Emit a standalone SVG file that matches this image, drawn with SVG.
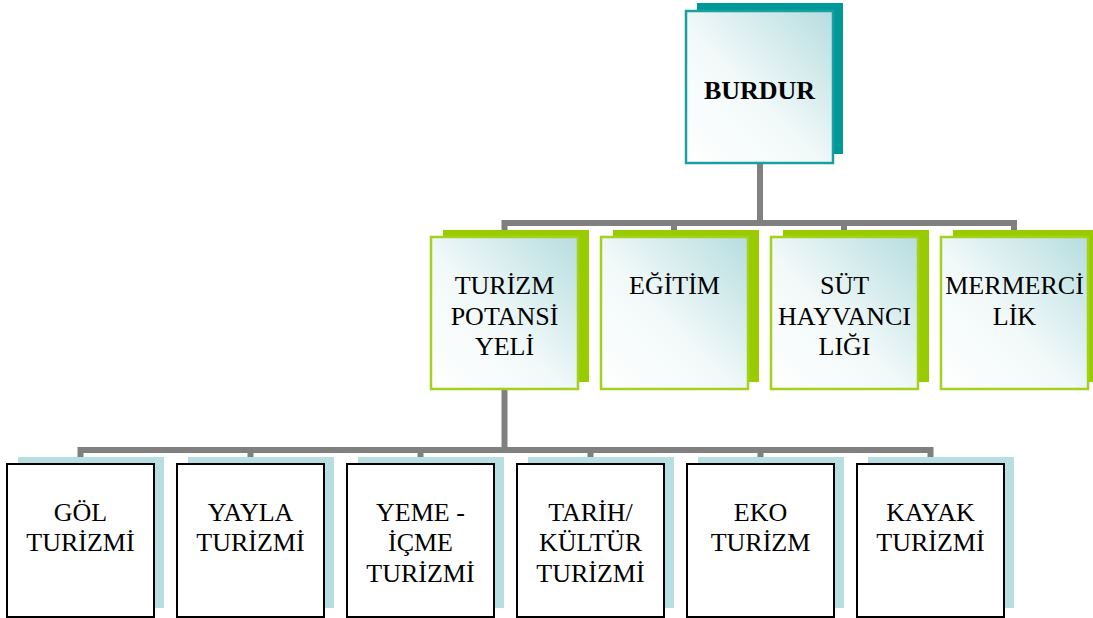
<svg xmlns="http://www.w3.org/2000/svg" width="1093" height="618" viewBox="0 0 1093 618">
  <defs>
    <linearGradient id="glow" x1="0" y1="1" x2="1" y2="0">
      <stop offset="0" stop-color="#ffffff"/>
      <stop offset="0.45" stop-color="#f2f9f9"/>
      <stop offset="1" stop-color="#b6dde0"/>
    </linearGradient>
    <style>
      .link { fill: none; stroke: #808080; stroke-width: 6; stroke-linejoin: miter; }
      .label { font-family: "Liberation Serif", "Times New Roman", serif; font-size: 26px; font-weight: normal; fill: #000; text-anchor: middle; }
      .bold { font-weight: bold; }
      .rootShadow { fill: #009999; }
      .rootFace { fill: url(#glow); stroke: #1aa0a0; stroke-width: 2.5; }
      .midShadow { fill: #99cc00; }
      .midFace { fill: url(#glow); stroke: #a3d11e; stroke-width: 2.5; }
      .leafShadow { fill: #b7dee1; }
      .leafFace { fill: #ffffff; stroke: #000000; stroke-width: 2; }
    </style>
  </defs>
  <rect width="1093" height="618" fill="#ffffff"/>

  <!-- elbow connectors -->
  <g id="connectors">
    <path class="link" d="M760,163 V223 H504.5 V237"/>
    <path class="link" d="M760,223 H674 V237"/>
    <path class="link" d="M760,223 H844 V237"/>
    <path class="link" d="M760,223 H1014 V237"/>
    <path class="link" d="M504.5,389 V450 H80.5 V464"/>
    <path class="link" d="M504.5,450 H250.5 V464"/>
    <path class="link" d="M504.5,450 H420.5 V464"/>
    <path class="link" d="M504.5,450 H590.5 V464"/>
    <path class="link" d="M504.5,450 H760.5 V464"/>
    <path class="link" d="M504.5,450 H930.5 V464"/>
  </g>

  <!-- root -->
  <g id="burdur">
    <rect class="rootShadow" x="697" y="3" width="146" height="151"/>
    <rect class="rootFace" x="686" y="11" width="147" height="152"/>
    <text class="label bold" x="759.5" y="99">BURDUR</text>
  </g>

  <!-- second level -->
  <g id="turizm-potansiyeli">
    <rect class="midShadow" x="443" y="230" width="146" height="152"/>
    <rect class="midFace" x="431" y="237" width="147" height="152"/>
    <text class="label" x="504.5" y="294">TURİZM</text>
    <text class="label" x="504.5" y="324.5">POTANSİ</text>
    <text class="label" x="504.5" y="355">YELİ</text>
  </g>
  <g id="egitim">
    <rect class="midShadow" x="613" y="230" width="146" height="152"/>
    <rect class="midFace" x="601" y="237" width="147" height="152"/>
    <text class="label" x="674.5" y="294">EĞİTİM</text>
  </g>
  <g id="sut-hayvanciligi">
    <rect class="midShadow" x="783" y="230" width="146" height="152"/>
    <rect class="midFace" x="771" y="237" width="147" height="152"/>
    <text class="label" x="844.5" y="294">SÜT</text>
    <text class="label" x="844.5" y="324.5">HAYVANCI</text>
    <text class="label" x="844.5" y="355">LIĞI</text>
  </g>
  <g id="mermercilik">
    <rect class="midShadow" x="953" y="230" width="146" height="152"/>
    <rect class="midFace" x="941" y="237" width="147" height="152"/>
    <text class="label" x="1014.5" y="294">MERMERCİ</text>
    <text class="label" x="1014.5" y="324.5">LİK</text>
  </g>

  <!-- third level -->
  <g id="gol-turizmi">
    <rect class="leafShadow" x="18" y="457" width="146" height="151"/>
    <rect class="leafFace" x="7" y="464" width="147" height="153"/>
    <text class="label" x="80.5" y="521">GÖL</text>
    <text class="label" x="80.5" y="551">TURİZMİ</text>
  </g>
  <g id="yayla-turizmi">
    <rect class="leafShadow" x="188" y="457" width="146" height="151"/>
    <rect class="leafFace" x="177" y="464" width="147" height="153"/>
    <text class="label" x="250.5" y="521">YAYLA</text>
    <text class="label" x="250.5" y="551">TURİZMİ</text>
  </g>
  <g id="yeme-icme-turizmi">
    <rect class="leafShadow" x="358" y="457" width="146" height="151"/>
    <rect class="leafFace" x="347" y="464" width="147" height="153"/>
    <text class="label" x="420.5" y="521">YEME -</text>
    <text class="label" x="420.5" y="551">İÇME</text>
    <text class="label" x="420.5" y="582">TURİZMİ</text>
  </g>
  <g id="tarih-kultur-turizmi">
    <rect class="leafShadow" x="528" y="457" width="146" height="151"/>
    <rect class="leafFace" x="517" y="464" width="147" height="153"/>
    <text class="label" x="590.5" y="521">TARİH/</text>
    <text class="label" x="590.5" y="551">KÜLTÜR</text>
    <text class="label" x="590.5" y="582">TURİZMİ</text>
  </g>
  <g id="eko-turizm">
    <rect class="leafShadow" x="698" y="457" width="146" height="151"/>
    <rect class="leafFace" x="687" y="464" width="147" height="153"/>
    <text class="label" x="760.5" y="521">EKO</text>
    <text class="label" x="760.5" y="551">TURİZM</text>
  </g>
  <g id="kayak-turizmi">
    <rect class="leafShadow" x="868" y="457" width="146" height="151"/>
    <rect class="leafFace" x="857" y="464" width="147" height="153"/>
    <text class="label" x="930.5" y="521">KAYAK</text>
    <text class="label" x="930.5" y="551">TURİZMİ</text>
  </g>
</svg>
